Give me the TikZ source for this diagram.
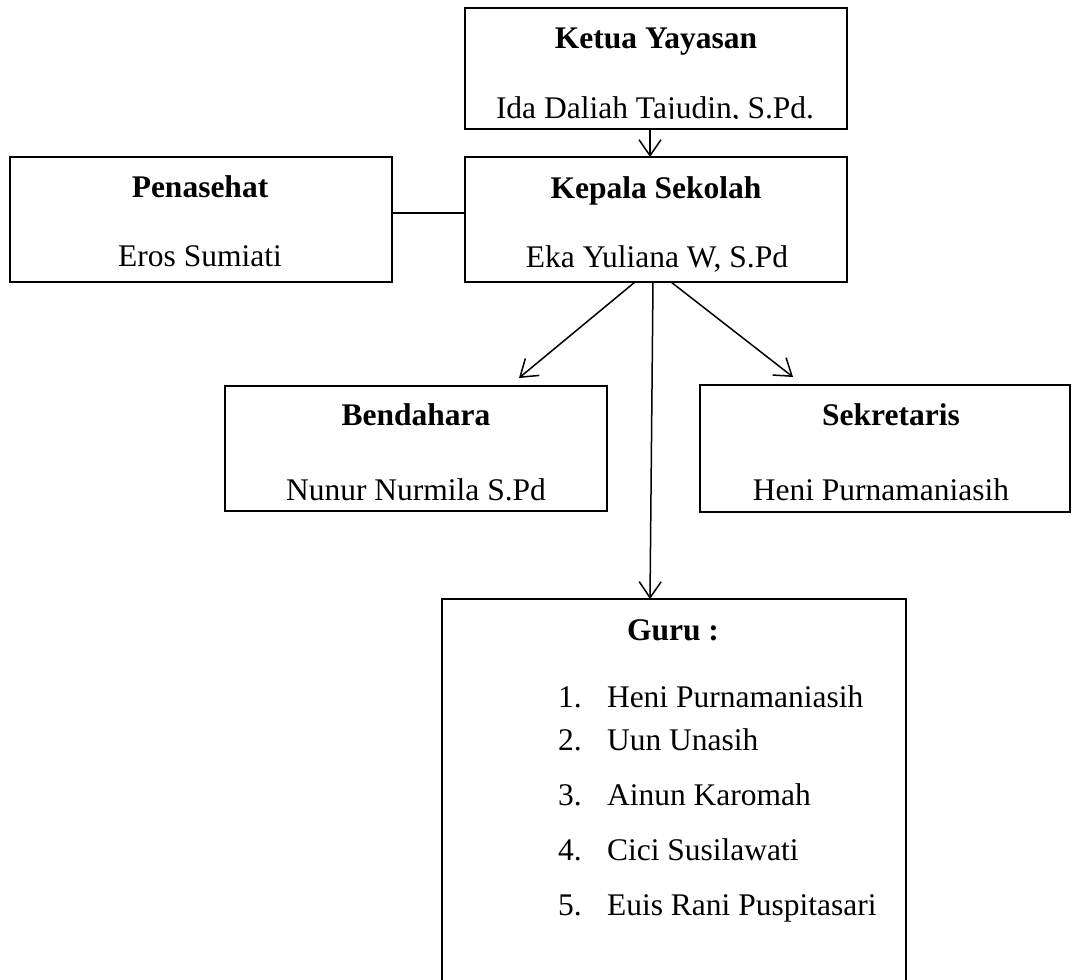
\documentclass[tikz,border=0pt]{standalone}
\usepackage{fontspec}
\setmainfont{Liberation Serif}
\usetikzlibrary{arrows.meta,calc}
\begin{document}
\begin{tikzpicture}[x=1pt,y=-1pt,
  box/.style={draw=black, line width=1.5pt, rectangle, inner sep=0pt, outer sep=0pt},
  txt/.style={inner sep=0pt, outer sep=0pt, anchor=base, font=\fontsize{31.5}{38}\selectfont},
  htxt/.style={txt, font=\fontsize{31.5}{38}\selectfont\bfseries},
  ltxt/.style={txt, anchor=base west},
  conn/.style={line width=1.5pt},
  arr/.style={conn, -{Straight Barb[length=16pt,width=22pt]}}
]
\fill[white] (0,0) rectangle (1075,979);
\clip (0,0) rectangle (1075,979);

% boxes
\node[box, minimum width=382pt, minimum height=121pt] (ketua) at (656,68.5) {};
\node[box, minimum width=382pt, minimum height=125pt] (kep) at (656,219.5) {};
\node[box, minimum width=382pt, minimum height=125pt] (pen) at (201,219.5) {};
\node[box, minimum width=382pt, minimum height=125pt] (bend) at (416,448.5) {};
\node[box, minimum width=370pt, minimum height=127pt] (sek) at (885,448.5) {};
\node[box, minimum width=464pt, minimum height=401pt] (guru) at (674,799.5) {};

% texts
\node[htxt] (tketua) at (656,49) {Ketua Yayasan};
\begin{scope}
  \clip (465,8) rectangle (847,119);
  \node[txt] (nketua) at (655,118) {Ida Daliah Tajudin, S.Pd.};
\end{scope}
\node[htxt] (tkep) at (656,198) {Kepala Sekolah};
\node[txt] (nkep) at (657,267) {Eka Yuliana W, S.Pd};
\node[htxt] (tpen) at (200,197) {Penasehat};
\node[txt] (npen) at (200,266) {Eros Sumiati};
\node[htxt] (tbend) at (416,425) {Bendahara};
\node[txt] (nbend) at (416,500) {Nunur Nurmila S.Pd};
\node[htxt] (tsek) at (891,425) {Sekretaris};
\node[txt] (nsek) at (881,500) {Heni Purnamaniasih};
\node[htxt] (tguru) at (673,640) {Guru :};

\node[ltxt] (g1n) at (558,707) {1.};
\node[ltxt] (g1) at (607,707) {Heni Purnamaniasih};
\node[ltxt] (g2n) at (558,750) {2.};
\node[ltxt] (g2) at (607,750) {Uun Unasih};
\node[ltxt] (g3n) at (558,805) {3.};
\node[ltxt] (g3) at (607,805) {Ainun Karomah};
\node[ltxt] (g4n) at (558,860) {4.};
\node[ltxt] (g4) at (607,860) {Cici Susilawati};
\node[ltxt] (g5n) at (558,915) {5.};
\node[ltxt] (g5) at (607,915) {Euis Rani Puspitasari};

% connectors
\draw[arr] ($(ketua.south)+(-6,0)$) -- ($(kep.north)+(-6,0)$);
\draw[conn] ($(pen.east)+(0,-6.5)$) -- ($(kep.west)+(0,-6.5)$);
\draw[arr] ($(kep.south)+(-21,0)$) -- ($(bend.north)+(103,-8)$);
\draw[arr] ($(kep.south)+(15,0)$) -- ($(sek.north)+(-92,-8)$);
\draw[arr] ($(kep.south)+(-3,0)$) -- ($(guru.north)+(-24,0)$);
\end{tikzpicture}
\end{document}
